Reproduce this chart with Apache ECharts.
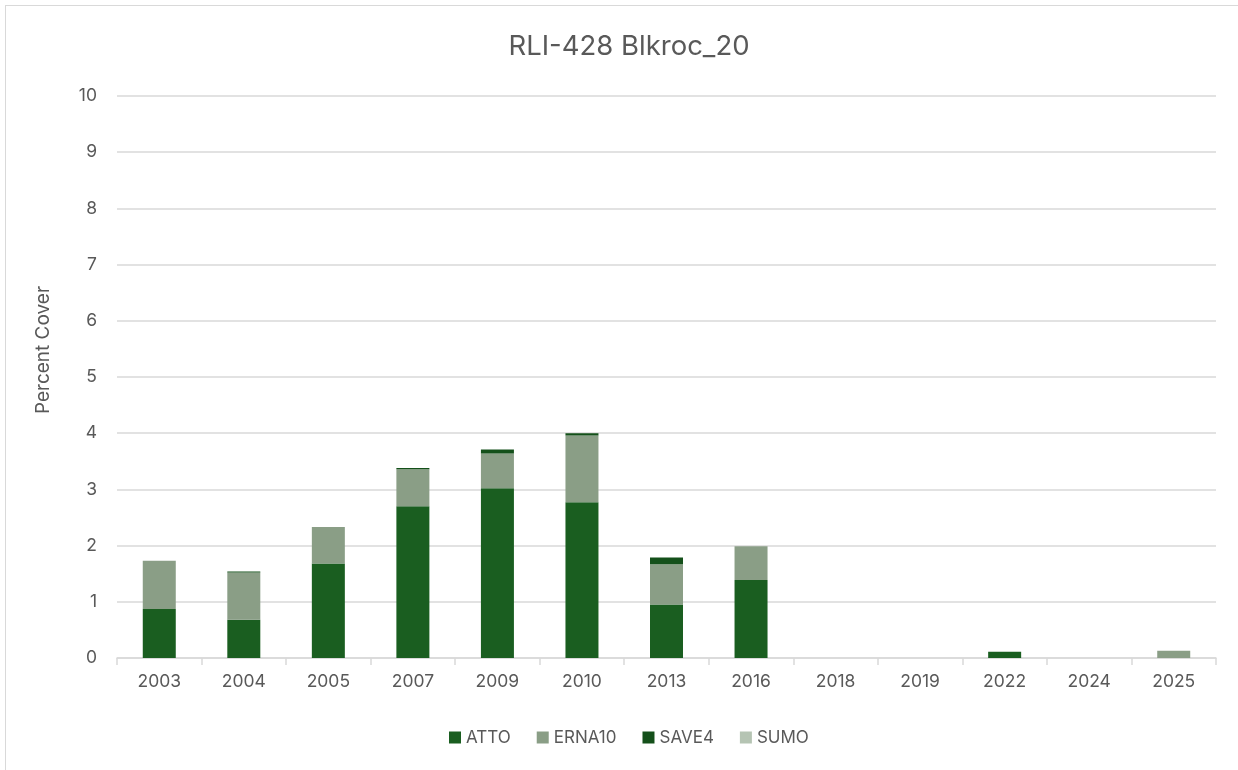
<!DOCTYPE html>
<html><head><meta charset="utf-8">
<script src="https://cdn.jsdelivr.net/npm/echarts@6/dist/echarts.min.js"></script>
<style>
html,body{margin:0;padding:0;background:#fff;overflow:hidden;}
#frame{position:absolute;left:5px;top:5px;width:1260px;height:800px;border:1.5px solid #d9d9d9;box-sizing:border-box;}
#c{position:absolute;left:0;top:0;width:1238px;height:770px;}
</style></head>
<body><div id="frame"></div><div id="c"></div>
<script>
const years = ['2003','2004','2005','2007','2009','2010','2013','2016','2018','2019','2022','2024','2025'];
const atto   = [0.87, 0.68, 1.68, 2.70, 3.02, 2.77, 0.95, 1.39, 0, 0, 0.11, 0, 0];
const erna10 = [0.86, 0.84, 0.65, 0.66, 0.62, 1.19, 0.72, 0.60, 0, 0, 0, 0, 0.13];
const save4  = [0, 0.02, 0, 0.02, 0.07, 0.04, 0.12, 0, 0, 0, 0, 0, 0];
const sumo   = [0, 0, 0, 0, 0, 0, 0, 0, 0, 0, 0, 0, 0];
const yTicks = [0,1,2,3,4,5,6,7,8,9,10];

const font = 'Inter, "Open Sans", "Liberation Sans", sans-serif';
const chart = echarts.init(document.getElementById('c'), null, {renderer:'canvas'});
function s(name, data, color){
  return {name, type:'bar', stack:'a', data, barWidth:33,
    itemStyle:{color, borderWidth:0}};
}
chart.setOption({
  animation:false,
  title:{text:'RLI-428 Blkroc_20', top:28, left:624, textAlign:'center',
    textStyle:{fontFamily:font, fontSize:27.5, fontWeight:'normal', color:'#595959'}},
  grid:{left:117, right:22, top:96, bottom:112},
  legend:{bottom:19, left:444, itemWidth:12, itemHeight:12, itemGap:26, icon:'rect',
    textStyle:{fontFamily:font, fontSize:17, color:'#595959'}},
  xAxis:{type:'category', data:years,
    axisLine:{lineStyle:{color:'#d9d9d9', width:1.5}},
    axisTick:{show:true, length:7, lineStyle:{color:'#d9d9d9', width:1.5}},
    axisLabel:{fontFamily:font, fontSize:17.5, color:'#595959', margin:15}},
  yAxis:{type:'value', min:yTicks[0], max:yTicks[yTicks.length-1], interval:1,
    name:'Percent Cover', nameLocation:'middle', nameGap:64, nameRotate:90,
    nameTextStyle:{fontFamily:font, fontSize:19, color:'#595959', padding:[0,0,0,54]},
    axisLine:{show:false}, axisTick:{show:false},
    axisLabel:{fontFamily:font, fontSize:17.5, color:'#595959', margin:20},
    splitLine:{lineStyle:{color:'#d9d9d9', width:1.5}}},
  series:[
    s('ATTO', atto, '#1a5e20'),
    s('ERNA10', erna10, '#8a9e86'),
    s('SAVE4', save4, '#14501a'),
    s('SUMO', sumo, '#b5c4b3')
  ]
});
</script></body></html>
